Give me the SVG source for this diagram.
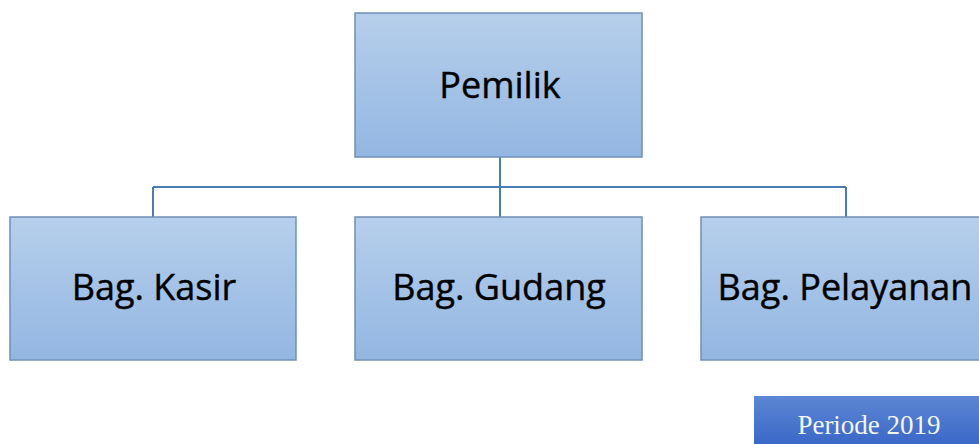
<svg xmlns="http://www.w3.org/2000/svg" width="979" height="444" viewBox="0 0 979 444">
<defs>
<linearGradient id="g" x1="0" y1="0" x2="0" y2="1">
<stop offset="0" stop-color="#b6cfeb"/>
<stop offset="1" stop-color="#93b6e2"/>
</linearGradient>
<linearGradient id="p" x1="0" y1="0" x2="0" y2="1">
<stop offset="0" stop-color="#5d86d4"/>
<stop offset="1" stop-color="#3866c6"/>
</linearGradient>
</defs>
<style>
.box{fill:url(#g);stroke:#6f8fb5;stroke-width:1.5}
.lbl{font-family:"Open Sans","Liberation Sans",sans-serif;font-size:36px;fill:#000;stroke:#000;stroke-width:0.4;text-anchor:middle}
.con{stroke:#4a7db4;stroke-width:2;fill:none}
</style>
<rect width="979" height="444" fill="#fff"/>
<g id="connectors">
<path class="con" d="M500 157V217M153 187H846M153 187V217M846 187V217"/>
</g>
<g id="pemilik">
<rect class="box" x="355" y="13" width="287" height="144"/>
<text class="lbl" x="500" y="98">Pemilik</text>
</g>
<g id="kasir">
<rect class="box" x="10" y="217" width="286" height="143"/>
<text class="lbl" x="154" y="300">Bag. Kasir</text>
</g>
<g id="gudang">
<rect class="box" x="355" y="217" width="287" height="143"/>
<text class="lbl" x="499" y="300">Bag. Gudang</text>
</g>
<g id="pelayanan">
<rect class="box" x="701" y="217" width="290" height="143"/>
<text class="lbl" x="845" y="300">Bag. Pelayanan</text>
</g>
<g id="periode">
<rect x="754" y="396" width="230" height="52" fill="url(#p)"/>
<text x="869" y="434" font-family="'Liberation Serif',serif" font-size="27" fill="#f4f6fb" text-anchor="middle">Periode 2019</text>
</g>
</svg>
